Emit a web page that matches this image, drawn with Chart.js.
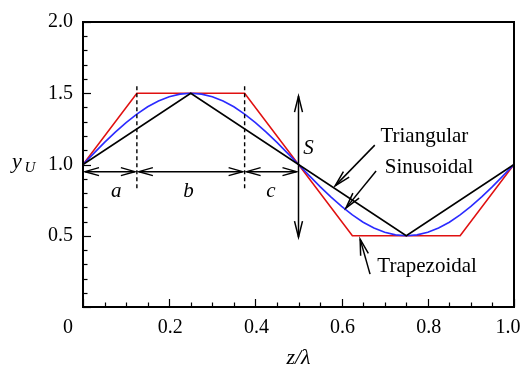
<!DOCTYPE html>
<html>
<head>
<meta charset="utf-8">
<script src="https://cdn.jsdelivr.net/npm/chart.js@4/dist/chart.umd.min.js"></script>
<style>
  body { margin: 0; background: #fff; }
</style>
</head>
<body>
<canvas id="chart" width="527" height="372"></canvas>
<script>
// --- data ---
const triX = [0, 0.25, 0.75, 1];
const triY = [1, 1.5, 0.5, 1];

const trapX = [0, 0.125, 0.375, 0.625, 0.875, 1];
const trapY = [1, 1.5, 1.5, 0.5, 0.5, 1];

const sinX = [0, 0.025, 0.05, 0.075, 0.1, 0.125, 0.15, 0.175, 0.2, 0.225, 0.25,
  0.275, 0.3, 0.325, 0.35, 0.375, 0.4, 0.425, 0.45, 0.475, 0.5,
  0.525, 0.55, 0.575, 0.6, 0.625, 0.65, 0.675, 0.7, 0.725, 0.75,
  0.775, 0.8, 0.825, 0.85, 0.875, 0.9, 0.925, 0.95, 0.975, 1];
const sinY = [1.000, 1.078, 1.155, 1.227, 1.294, 1.354, 1.405, 1.446, 1.476, 1.494, 1.5,
  1.494, 1.476, 1.446, 1.405, 1.354, 1.294, 1.227, 1.155, 1.078, 1.000,
  0.922, 0.845, 0.773, 0.706, 0.646, 0.595, 0.554, 0.524, 0.506, 0.5,
  0.506, 0.524, 0.554, 0.595, 0.646, 0.706, 0.773, 0.845, 0.922, 1.000];

const xTickValues = [0, 0.2, 0.4, 0.6, 0.8, 1];
const xTickLabels = ['0', '0.2', '0.4', '0.6', '0.8', '1.0'];
const yTickLabels = ['', '0.5', '1.0', '1.5', '2.0'];

const spanEdges = [0, 0.125, 0.375, 0.5];   // a, b, c segments
const spanLabels = ['a', 'b', 'c'];
const curveNames = ['Triangular', 'Sinusoidal', 'Trapezoidal'];

const SERIF = '"Liberation Serif", "DejaVu Serif", serif';

function pts(xs, ys) {
  return xs.map((x, i) => ({ x: x, y: ys[i] }));
}

function line(ctx, x1, y1, x2, y2) {
  ctx.beginPath();
  ctx.moveTo(x1, y1);
  ctx.lineTo(x2, y2);
  ctx.stroke();
}

// open "V" arrow head at (tx,ty), pointing away from (fx,fy)
function head(ctx, tx, ty, fx, fy, len, half) {
  let dx = tx - fx, dy = ty - fy;
  let d = Math.hypot(dx, dy);
  dx /= d; dy /= d;
  let bx = tx - dx * len, by = ty - dy * len;
  ctx.beginPath();
  ctx.moveTo(bx - dy * half, by + dx * half);
  ctx.lineTo(tx, ty);
  ctx.lineTo(bx + dy * half, by - dx * half);
  ctx.stroke();
}

function arrow(ctx, x1, y1, x2, y2, both, len, half) {
  line(ctx, x1, y1, x2, y2);
  head(ctx, x2, y2, x1, y1, len, half);
  if (both) head(ctx, x1, y1, x2, y2, len, half);
}

const decorations = {
  id: 'decorations',
  afterDatasetsDraw(chart) {
    const { ctx, chartArea: a, scales: { x, y } } = chart;
    const X = v => x.getPixelForValue(v);
    const Y = v => y.getPixelForValue(v);
    ctx.save();
    ctx.strokeStyle = '#000';
    ctx.fillStyle = '#000';
    ctx.lineCap = 'butt';

    // inward ticks, bottom and left
    ctx.lineWidth = 1.2;
    for (let i = 0; i <= 20; i++) {
      let px = Math.round(X(i * 0.05)) + 0.5;
      let len = i % 4 === 0 ? 8 : 4.5;
      line(ctx, px, a.bottom, px, a.bottom - len);
    }
    for (let i = 0; i <= 20; i++) {
      let py = Math.round(Y(i * 0.1)) + 0.5;
      let len = i % 5 === 0 ? 8 : 4.5;
      line(ctx, a.left, py, a.left + len, py);
    }

    // frame
    ctx.lineWidth = 2;
    ctx.strokeRect(a.left, a.top, a.right - a.left, a.bottom - a.top);

    // dashed guides at a/b and b/c boundaries
    ctx.lineWidth = 1.4;
    ctx.setLineDash([4, 3]);
    line(ctx, X(spanEdges[1]), Y(1.55), X(spanEdges[1]), Y(0.82));
    line(ctx, X(spanEdges[2]), Y(1.55), X(spanEdges[2]), Y(0.82));
    ctx.setLineDash([]);

    // a, b, c dimension arrows
    ctx.lineWidth = 1.5;
    for (let i = 0; i < 3; i++) {
      arrow(ctx, X(spanEdges[i]) + 2, Y(0.95), X(spanEdges[i + 1]) - 2, Y(0.95), true, 14, 4);
    }
    ctx.font = 'italic 21px ' + SERIF;
    ctx.textAlign = 'center';
    ctx.textBaseline = 'middle';
    const labelX = [0.077, 0.245, 0.436];
    spanLabels.forEach((t, i) => ctx.fillText(t, X(labelX[i]), Y(0.81)));

    // amplitude arrow S
    arrow(ctx, X(0.5), Y(1.48), X(0.5), Y(0.49), true, 16, 4);
    ctx.fillText('S', X(0.523), Y(1.11));

    // curve callouts
    ctx.font = '21px ' + SERIF;
    ctx.textAlign = 'left';
    ctx.fillText(curveNames[0], X(0.69), Y(1.20));
    arrow(ctx, X(0.677), Y(1.136), X(0.585), Y(0.85), false, 16, 4);
    ctx.fillText(curveNames[1], X(0.70), Y(0.98));
    arrow(ctx, X(0.680), Y(0.955), X(0.610), Y(0.694), false, 16, 4);
    ctx.fillText(curveNames[2], X(0.683), Y(0.285));
    arrow(ctx, X(0.666), Y(0.231), X(0.643), Y(0.476), false, 16, 4);

    // x tick labels
    ctx.font = '20px ' + SERIF;
    ctx.textAlign = 'center';
    ctx.textBaseline = 'alphabetic';
    xTickValues.forEach((v, i) => {
      let nudge = i === 0 ? -15 : (i === xTickValues.length - 1 ? -6 : 1);
      ctx.fillText(xTickLabels[i], X(v) + nudge, a.bottom + 26);
    });

    // axis titles
    ctx.font = 'italic 22px ' + SERIF;
    ctx.fillText('z/\u03bb', X(0.5), a.bottom + 57);
    ctx.textAlign = 'left';
    ctx.fillText('y', 12, Y(1.0) + 3);
    ctx.font = 'italic 15px ' + SERIF;
    ctx.fillText('U', 24.5, Y(1.0) + 7);

    ctx.restore();
  }
};

new Chart(document.getElementById('chart'), {
  type: 'scatter',
  data: {
    datasets: [
      { label: 'Triangular', data: pts(triX, triY), borderColor: '#000', order: 1 },
      { label: 'Sinusoidal', data: pts(sinX, sinY), borderColor: '#2b2bff', order: 2 },
      { label: 'Trapezoidal', data: pts(trapX, trapY), borderColor: '#e01010', order: 3 }
    ]
  },
  options: {
    responsive: false,
    animation: false,
    showLine: true,
    layout: { padding: { top: 4, right: 13, left: 0, bottom: 0 } },
    elements: {
      point: { radius: 0, hoverRadius: 0 },
      line: { borderWidth: 1.6, tension: 0, fill: false }
    },
    plugins: {
      legend: { display: false },
      tooltip: { enabled: false }
    },
    scales: {
      x: {
        type: 'linear', min: 0, max: 1,
        grid: { display: false },
        border: { display: false },
        ticks: { display: false },
        afterFit: s => { s.height = 65; }
      },
      y: {
        type: 'linear', min: 0, max: 2,
        grid: { display: false, drawTicks: false },
        border: { display: false },
        ticks: {
          stepSize: 0.5,
          padding: 10,
          color: '#000',
          font: { family: SERIF, size: 20 },
          callback: (v, i) => yTickLabels[i]
        },
        afterFit: s => { s.width = 83; }
      }
    }
  },
  plugins: [decorations]
});
</script>
</body>
</html>
